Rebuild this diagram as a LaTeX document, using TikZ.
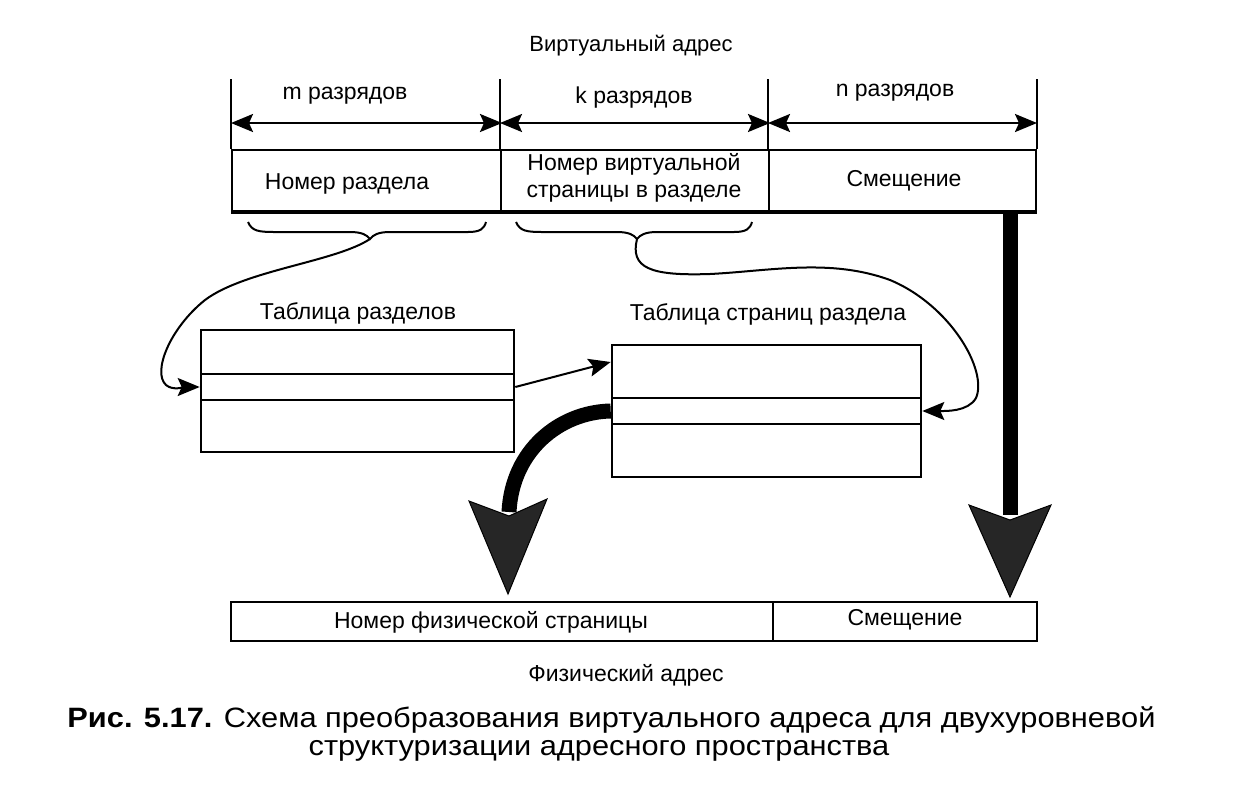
\documentclass[tikz,border=0pt]{standalone}
\usepackage{fontspec}
\setmainfont{Liberation Sans}
\newfontfamily\capfont[FakeStretch=1.1]{Liberation Sans}
\usetikzlibrary{arrows.meta}
\begin{document}
\begin{tikzpicture}[x=0.5pt,y=-0.5pt,
  lbl/.style={inner sep=0pt, align=center, font=\fontsize{11.5}{13.5}\selectfont},
  cell/.style={draw, line width=1pt, inner sep=0pt},
  row/.style={draw, line width=1.3pt, inner sep=0pt, minimum width=#1},
  dim/.style={line width=1.2pt, {Stealth[length=11pt,width=9pt,inset=2pt]}-{Stealth[length=11pt,width=9pt,inset=2pt]}},
  thinarrow/.style={line width=1pt, -{Stealth[length=11pt,width=9pt,inset=2pt]}},
  brace/.style={line width=1pt},
  bigshaft/.style={line width=7.5pt},
  bighead/.style={fill=black!85, draw=black, line width=0.5pt},
  captxt/.style={inner sep=0pt, font=\capfont\fontsize{14}{16}\selectfont}
]
\useasboundingbox (0,0) rectangle (1245,788);

% virtual address
\node[lbl, font=\fontsize{11}{13}\selectfont] (va) at (631,46) {Виртуальный адрес};
\node[cell, minimum width=134.5pt, minimum height=30.5pt] (f1) at (366.5,180.5) {};
\node[cell, minimum width=134pt, minimum height=30.5pt] (f2) at (635,180.5) {};
\node[cell, minimum width=133.5pt, minimum height=30.5pt] (f3) at (902.5,180.5) {};
\node[lbl] (t1) at (347,184) {Номер раздела};
\node[lbl] (t2) at (634,178) {Номер виртуальной\\страницы в разделе};
\node[lbl] (t3) at (904,181) {Смещение};
\draw[line width=2pt] (f1.south west) -- (f3.south east);
\draw[line width=1pt] (f1.north west) -- ++(0,-70);
\draw[line width=1pt] (f2.north west) -- ++(0,-70);
\draw[line width=1pt] (f3.north west) -- ++(0,-70);
\draw[line width=1pt] (f3.north east) -- ++(0,-70);
\draw[dim] ([yshift=13pt]f1.north west) -- ([yshift=13pt]f1.north east);
\draw[dim] ([yshift=13pt]f2.north west) -- ([yshift=13pt]f2.north east);
\draw[dim] ([yshift=13pt]f3.north west) -- ([yshift=13pt]f3.north east);
\node[lbl] (m) at (345,96) {m разрядов};
\node[lbl] (k) at (634,98) {k разрядов};
\node[lbl] (n) at (895,93) {n разрядов};

% braces
\coordinate (b1) at (370,239);
\coordinate (b2) at (637,239);
\draw[brace] (248,222) .. controls (252,231) and (258,232) .. (275,232) -- (350,232)
  .. controls (362,232) and (367,235) .. (b1) .. controls (373,235) and (378,232) .. (390,232)
  -- (468,232) .. controls (480,232) and (484,229) .. (486,222);
\draw[brace] (516,222) .. controls (520,231) and (526,232) .. (543,232) -- (617,232)
  .. controls (629,232) and (634,235) .. (b2) .. controls (640,235) and (645,232) .. (657,232)
  -- (734,232) .. controls (746,232) and (750,229) .. (752,222);

% section table
\node[lbl] (trl) at (358,313) {Таблица разделов};
\node[row=156.5pt, minimum height=22pt] (tr1) at (357.5,352) {};
\node[row=156.5pt, minimum height=13pt] (tr2) at (357.5,387) {};
\node[row=156.5pt, minimum height=26pt] (tr3) at (357.5,426) {};

% page table
\node[lbl] (tsl) at (768,314) {Таблица страниц раздела};
\node[row=154.5pt, minimum height=26.5pt] (ts1) at (766.5,371.5) {};
\node[row=154.5pt, minimum height=13pt] (ts2) at (766.5,411) {};
\node[row=154.5pt, minimum height=26.5pt] (ts3) at (766.5,450.5) {};

% thin connectors
\draw[thinarrow] (b1) .. controls (335,262) and (245,270) .. (205,300)
  .. controls (170,328) and (152,372) .. (166,385) .. controls (173,391) and (185,387) .. (tr2.west);
\draw[thinarrow] (tr2.east) -- ([yshift=4.75pt]ts1.west);
\draw[thinarrow] (b2) .. controls (630,268) and (650,276) .. (710,274)
  .. controls (770,271) and (830,258) .. (890,280)
  .. controls (950,305) and (988,370) .. (976,398)
  .. controls (968,412) and (945,411) .. (ts2.east);

% physical address
\node[cell, minimum width=271pt, minimum height=19.5pt] (p1) at (502,621.5) {};
\node[cell, minimum width=132pt, minimum height=19.5pt] (p2) at (905,621.5) {};
\node[lbl] (t4) at (491,622) {Номер физической страницы};
\node[lbl] (t5) at (905,620) {Смещение};
\node[lbl] (pa) at (626,675) {Физический адрес};

% thick arrows
\coordinate (h1) at (509,512);
\coordinate (h2) at (1010,515);
\draw[bigshaft] (ts2.west) .. controls (560,412) and (512,450) .. (h1);
\fill[bighead] (469,501) -- (509,516) -- (547,499) -- (508,594) -- cycle;
\draw[bigshaft] (1010,212) -- (h2);
\fill[bighead] (969,505) -- (1010,520) -- (1051,505) -- (1010,597) -- cycle;

% caption
\node[captxt] (cap1) at (611.5,720) {\textbf{Рис. 5.17.} Схема преобразования виртуального адреса для двухуровневой};
\node[captxt] (cap2) at (599,751) {структуризации адресного пространства};
\end{tikzpicture}
\end{document}
